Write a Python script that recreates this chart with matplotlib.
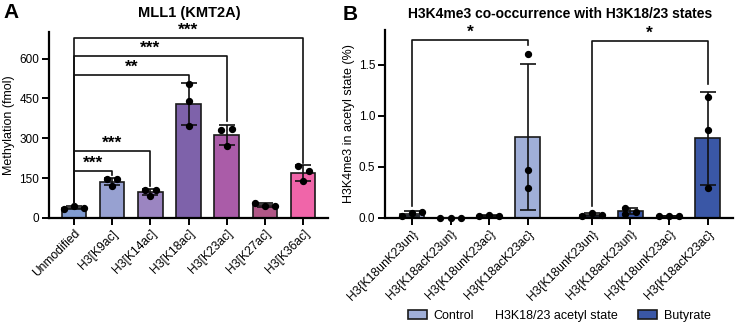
import numpy as np
import matplotlib
matplotlib.use('Agg')
import matplotlib.pyplot as plt
from matplotlib.patches import Patch

plt.rcParams['font.family'] = ['Liberation Sans', 'DejaVu Sans']

# ---- panel A data: MLL1 methylation (fmol), three replicates per substrate
mods = ['Unmodified', 'H3[K9ac]', 'H3[K14ac]', 'H3[K18ac]',
        'H3[K23ac]', 'H3[K27ac]', 'H3[K36ac]']
mll1_reps = [[35, 45, 38], [146, 145, 121], [106, 104, 84], [503, 440, 346],
             [333, 335, 270], [57, 47, 44], [195, 178, 138]]
mod_colors = ['#809bd0', '#97a1d1', '#9b85c1', '#7e62aa',
              '#aa5ca8', '#b05786', '#f065a9']
# (target bar, label, bracket height, right drop end)
sig_a = [(1, '***', 176, 163), (2, '***', 254, 120), (3, '**', 537, 515),
         (4, '***', 609, 365), (6, '***', 679, 207)]

# ---- panel B data: H3K4me3 co-occurrence (%)
states = ['H3{K18unK23un}', 'H3{K18acK23un}', 'H3{K18unK23ac}', 'H3{K18acK23ac}']
control_reps = [[0.02, 0.05, 0.06], [0.0, 0.0, 0.0],
                [0.016, 0.033, 0.023], [1.61, 0.469, 0.292]]
butyrate_reps = [[0.016, 0.05, 0.033], [0.10, 0.04, 0.06],
                 [0.016, 0.02, 0.016], [1.187, 0.859, 0.292]]
ctrl_color = '#a0afd8'
but_color = '#3a57a6'


def spread(vals, thr):
    # simple scatter layout: points close in value get pushed sideways
    offs = [0.0] * len(vals)
    if max(vals) - min(vals) < thr:
        return [-0.27, 0.0, 0.27]
    for i in range(len(vals)):
        for j in range(i + 1, len(vals)):
            if abs(vals[i] - vals[j]) < thr:
                offs[i], offs[j] = -0.14, 0.14
    return offs


def draw_bars(ax, xs, reps, colors, thr):
    for x, r, c in zip(xs, reps, colors):
        r = np.array(r, dtype=float)
        m, sd = r.mean(), r.std(ddof=1)
        ax.bar(x, m, width=0.64, color=c, edgecolor='#1a1a1a', linewidth=1.2, zorder=2)
        ax.errorbar(x, m, yerr=sd, color='#111111', elinewidth=1.2, capsize=5.5,
                    capthick=1.2, zorder=3)
        ax.scatter(x + np.array(spread(list(r), thr)), r, s=18, color='black',
                   zorder=4, clip_on=False)


def style(ax):
    for s in ['top', 'right']:
        ax.spines[s].set_visible(False)
    for s in ['left', 'bottom']:
        ax.spines[s].set_linewidth(1.6)
    ax.tick_params(width=1.4, length=5, labelsize=8.5, pad=2)
    ax.tick_params(axis='x', labelsize=8.7)


def bracket(ax, x1, x2, y, d1, d2, label):
    ax.plot([x1, x1, x2, x2], [d1, y, y, d2], color='#111111', lw=1.2,
            clip_on=False, zorder=5)
    ax.annotate(label, ((x1 + x2) / 2, y), xytext=(0, 2.2),
                textcoords='offset points', ha='center', va='baseline',
                fontsize=12.5, fontweight='bold', annotation_clip=False)


fig = plt.figure(figsize=(7.35, 3.25), dpi=100)

# ---- panel A
axa = fig.add_axes([49 / 735, 1 - 218 / 325, 279 / 735, 186 / 325])
xa = np.arange(len(mods))
draw_bars(axa, xa, mll1_reps, mod_colors, 19)
for tgt, lab, y, d2 in sig_a:
    bracket(axa, 0, xa[tgt], y, 55, d2, lab)
axa.set_xlim(-0.65, len(mods) - 0.35)
axa.set_ylim(0, 700)
axa.set_yticks([0, 150, 300, 450, 600])
axa.set_xticks(xa)
axa.set_xticklabels(mods, rotation=45, ha='right', rotation_mode='anchor')
axa.set_ylabel('Methylation (fmol)', fontsize=9, labelpad=3)
style(axa)

# ---- panel B
axb = fig.add_axes([385 / 735, 1 - 218 / 325, 348 / 735, 188 / 325])
xc = np.arange(len(states))
xb = xc + 4.67
draw_bars(axb, xc, control_reps, [ctrl_color] * 4, 0.05)
draw_bars(axb, xb, butyrate_reps, [but_color] * 4, 0.05)
bracket(axb, xc[0], xc[3], 1.74, 0.12, 1.69, '*')
bracket(axb, xb[0], xb[3], 1.73, 0.12, 1.31, '*')
axb.set_xlim(-0.7, xb[-1] + 0.66)
axb.set_ylim(0, 1.84)
axb.set_yticks([0, 0.5, 1.0, 1.5])
axb.set_yticklabels(['0.0', '0.5', '1.0', '1.5'])
axb.set_xticks(np.concatenate([xc, xb]))
axb.set_xticklabels(states * 2, rotation=45, ha='right', rotation_mode='anchor')
axb.set_ylabel('H3K4me3 in acetyl state (%)', fontsize=9, labelpad=3)
axb.set_xlabel('H3K18/23 acetyl state', fontsize=9)
axb.xaxis.set_label_coords((556 - 385) / 348, (218 - 316) / 188)
axb.xaxis.label.set_va('center')
style(axb)

# legend split around the x label
kw = dict(frameon=False, fontsize=9, handlelength=1.5, handleheight=0.65,
          handletextpad=0.55, borderpad=0, borderaxespad=0, loc='center left')
fig.legend(handles=[Patch(facecolor=ctrl_color, edgecolor='#1a1a1a', lw=1.2, label='Control')],
           bbox_to_anchor=(408 / 735, 1 - 316 / 325), **kw)
fig.legend(handles=[Patch(facecolor=but_color, edgecolor='#1a1a1a', lw=1.2, label='Butyrate')],
           bbox_to_anchor=(638 / 735, 1 - 316 / 325), **kw)

# titles and panel letters
fig.text(189 / 735, 1 - 13 / 325, 'MLL1 (KMT2A)', ha='center', va='center',
         fontsize=10.5, fontweight='bold')
fig.text(560 / 735, 1 - 14 / 325, 'H3K4me3 co-occurrence with H3K18/23 states',
         ha='center', va='center', fontsize=10, fontweight='bold')
fig.text(3 / 735, 1 - 13 / 325, 'A', ha='left', va='center', fontsize=15, fontweight='bold')
fig.text(343 / 735, 1 - 14 / 325, 'B', ha='left', va='center', fontsize=15, fontweight='bold')

fig.savefig('out.png', dpi=100)
